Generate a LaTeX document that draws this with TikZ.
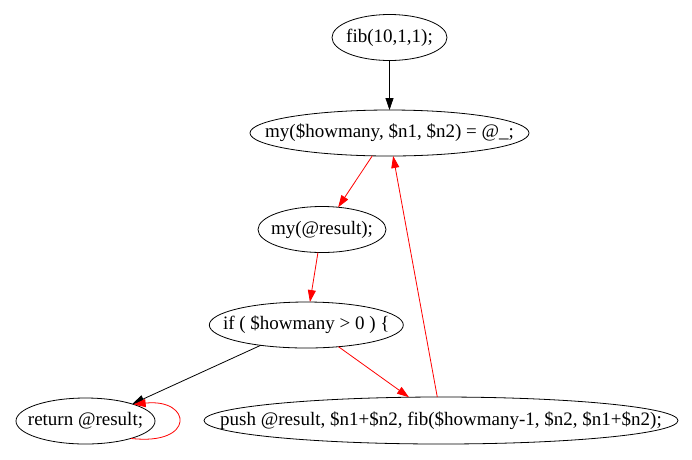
\documentclass[tikz,border=0pt]{standalone}
\usepackage{fontspec}
\setmainfont{Liberation Serif}
\usetikzlibrary{shapes.geometric,arrows.meta}
\newcommand{\zw}[1]{\makebox[0pt]{#1}}
\begin{document}
\begin{tikzpicture}[x=1pt,y=-1pt,
  nd/.style={draw,ellipse,inner sep=0pt,outer sep=0pt,line width=0.8pt,font=\fontsize{19}{22}\selectfont},
  blk/.style={draw=black,line width=0.8pt,-{Triangle[length=12pt,width=8pt]}},
  rd/.style={draw=red,line width=0.8pt,-{Triangle[length=12pt,width=8pt]}}]
\useasboundingbox[fill=white] (0,0) rectangle (692,459);
\node[nd,minimum width=115pt,minimum height=46pt] (fib) at (389.5,37.5) {\zw{fib(10,1,1);}};
\node[nd,minimum width=279pt,minimum height=46pt] (my) at (389.5,133) {\zw{my(\$howmany, \$n1, \$n2) = @\_;}};
\node[nd,minimum width=128pt,minimum height=46pt] (res) at (322,229.5) {\zw{my(@result);}};
\node[nd,minimum width=194pt,minimum height=46pt] (if) at (306.3,325) {\zw{if ( \$howmany > 0 ) \{}};
\node[nd,minimum width=139pt,minimum height=46pt] (ret) at (85.5,421) {\zw{return @result;}};
\node[nd,minimum width=474pt,minimum height=47pt] (push) at (441,420.5) {\zw{push @result, \$n1+\$n2, fib(\$howmany-1, \$n2, \$n1+\$n2);}};
\draw[blk] (fib.south) -- (my.north);
\draw[rd] (my.-127.5) -- (res.54);
\draw[rd] (res.-100) -- (if.81);
\draw[blk] (if.-156) -- (ret.20);
\draw[rd] (if.-34.8) -- (push.144.8);
\draw[rd] (push.99.7) -- (my.-81.3);
\draw[rd] (ret.-21) .. controls (196,446) and (192,398) .. (ret.19);
\end{tikzpicture}
\end{document}
